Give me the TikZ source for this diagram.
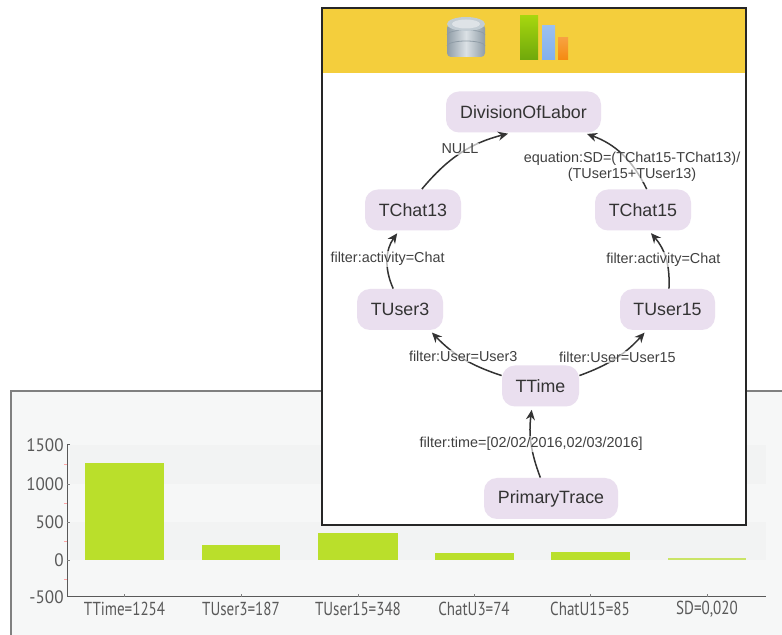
\documentclass[tikz,border=0pt]{standalone}
\usepackage{fontspec}
\setmainfont{Liberation Sans}
\newfontfamily\chartfont[FakeStretch=0.8]{PT Sans}
\newfontfamily\axisfont[FakeStretch=0.95]{PT Sans}
\usetikzlibrary{arrows.meta}
\definecolor{bandyellow}{HTML}{F4CE3C}
\definecolor{tracelilac}{HTML}{EADFEF}
\definecolor{barlime}{HTML}{BADF2B}
\definecolor{panelgrey}{HTML}{F6F7F7}
\definecolor{stripegrey}{HTML}{F2F3F3}
\definecolor{icongreen}{HTML}{A6D60E}
\definecolor{icondarkgreen}{HTML}{6FA80C}
\definecolor{iconblue}{HTML}{82B0EC}
\definecolor{iconorange}{HTML}{F58A10}
\definecolor{iconsilver}{HTML}{C3CDD4}
\definecolor{iconslate}{HTML}{8F9CA6}
\begin{document}
\begin{tikzpicture}[
    x=0.5pt,y=-0.5pt,
    tracenode/.style={rectangle,rounded corners=6.5pt,fill=tracelilac,text=black!80,inner sep=0pt,minimum height=20.5pt,font=\fontsize{8.9}{10}\selectfont},
    edgelabel/.style={fill=white,fill opacity=0.65,text opacity=1,text=black!75,inner sep=0.5pt,align=center,font=\fontsize{7.2}{7.6}\selectfont},
    traceedge/.style={->,>={Stealth[length=5pt,width=4.5pt]},draw=black!80,line width=0.75pt,shorten >=1.5pt},
    ticklabel/.style={text=black!65,inner sep=0pt,font=\chartfont\fontsize{9.4}{10}\selectfont},
    axislabel/.style={text=black!65,inner sep=0pt,anchor=east,font=\axisfont\fontsize{9}{10}\selectfont},
    bar/.style={fill=barlime}
    ]
    \useasboundingbox (0,0) rectangle (782,635);

    % chart panel
    \fill [panelgrey] (11,391) rectangle (782,635);
    \draw [black!50,line width=0.8pt] (11,635) -- (11,391) -- (782,391);
    \fill [stripegrey] (70,445) rectangle (766,484);
    \fill [stripegrey] (70,522) rectangle (766,560);
    \fill [bar] (85,463) rectangle (164,560);
    \fill [bar] (202,545) rectangle (280,560);
    \fill [bar] (318,533) rectangle (398,560);
    \fill [bar] (435,553) rectangle (514,560);
    \fill [bar] (551,552) rectangle (630,560);
    \fill [bar,opacity=0.7] (668,558.5) rectangle (746,560.5);
    \draw [black!65,line width=0.5pt] (70,445) -- (67,445) -- (67,597) -- (766,597);
    \draw [black!50,line width=0.4pt] (67,484) -- (70,484);
    \draw [black!50,line width=0.4pt] (67,522) -- (70,522);
    \draw [black!50,line width=0.4pt] (67,560) -- (70,560);
    \draw [red!35,line width=0.4pt] (64,464) -- (67,464);
    \draw [red!35,line width=0.4pt] (64,503) -- (67,503);
    \draw [red!35,line width=0.4pt] (64,541) -- (67,541);
    \draw [red!35,line width=0.4pt] (64,579) -- (67,579);
    \draw [black!50,line width=0.4pt] (124.5,597) -- (124.5,594);
    \draw [black!50,line width=0.4pt] (241,597) -- (241,594);
    \draw [black!50,line width=0.4pt] (358,597) -- (358,594);
    \draw [black!50,line width=0.4pt] (474,597) -- (474,594);
    \draw [black!50,line width=0.4pt] (590,597) -- (590,594);
    \draw [black!50,line width=0.4pt] (707,597) -- (707,594);

    \node (y1500) at (64,445) [axislabel] {1500};
    \node (y1000) at (64,484) [axislabel] {1000};
    \node (y500) at (64,522) [axislabel] {500};
    \node (y0) at (64,560) [axislabel] {0};
    \node (ym500) at (64,597) [axislabel] {-500};
    \node (xttime) at (124.5,609) [ticklabel] {TTime=1254};
    \node (xtuser3) at (241,609) [ticklabel] {TUser3=187};
    \node (xtuser15) at (358,609) [ticklabel] {TUser15=348};
    \node (xchat3) at (474,609) [ticklabel] {ChatU3=74};
    \node (xchat15) at (590,609) [ticklabel] {ChatU15=85};
    \node (xsd) at (707,609) [ticklabel] {SD=0,020};

    % workflow window
    \fill [white] (322,8) rectangle (746,525);
    \fill [bandyellow] (322,8) rectangle (746,73);
    \draw [black!85,line width=0.7pt] (322,8) rectangle (746,525);

    % database icon
    \shade [left color=iconslate,right color=iconslate,middle color=iconsilver!60!white,rounded corners=2pt] (447,24) rectangle (485,57);
    \draw [iconslate,line width=0.4pt] (447,35) arc [start angle=180,end angle=360,x radius=19,y radius=5];
    \draw [iconslate,line width=0.4pt] (447,46) arc [start angle=180,end angle=360,x radius=19,y radius=5];
    \fill [iconsilver] (466,24) ellipse [x radius=19,y radius=7];
    \fill [iconsilver!55!white] (466,24) ellipse [x radius=14,y radius=4.5];

    % chart icon
    \shade [top color=icongreen,bottom color=icondarkgreen] (520,16) rectangle (538,60);
    \shade [top color=iconblue!80,bottom color=iconblue] (542,26) rectangle (555,60);
    \shade [top color=iconorange!80,bottom color=iconorange] (558,38) rectangle (568,60);

    % trace nodes
    \node (division) at (523.5,112) [tracenode,minimum width=77.5pt] {DivisionOfLabor};
    \node (tchat13) at (413,210) [tracenode,minimum width=48pt] {TChat13};
    \node (tchat15) at (643,210) [tracenode,minimum width=48pt] {TChat15};
    \node (tuser3) at (400,309.5) [tracenode,minimum width=43pt] {TUser3};
    \node (tuser15) at (667.5,309.5) [tracenode,minimum width=47.5pt] {TUser15};
    \node (ttime) at (540.5,386) [tracenode,minimum width=38.5pt] {TTime};
    \node (primary) at (551,498.5) [tracenode,minimum width=67pt] {PrimaryTrace};

    \draw [traceedge] (primary.117) to [bend left=14] node [edgelabel,yshift=-0.5pt] {filter:time=[02/02/2016,02/03/2016]} (ttime.-112);
    \draw [traceedge] (ttime.165) to [bend left=14] node [edgelabel,pos=0.55,xshift=2pt,yshift=0pt] {filter:User=User3} (tuser3.-35);
    \draw [traceedge] (ttime.15) to [bend right=14] node [edgelabel,pos=0.52] {filter:User=User15} (tuser15.-135);
    \draw [traceedge] (tuser3.108) to [bend left=30] node [edgelabel] {filter:activity=Chat} (tchat13.-124);
    \draw [traceedge] (tuser15.86) to [bend right=22] node [edgelabel,xshift=-1pt,yshift=-1pt] {filter:activity=Chat} (tchat15.-74);
    \draw [traceedge] (tchat13.67) to [bend left=18] node [edgelabel,pos=0.6,xshift=-5pt,yshift=-0.5pt] {NULL} (division.-121);
    \draw [traceedge] (tchat15.80) to [bend right=22] node [edgelabel,pos=0.35,xshift=1pt,yshift=-2pt] {equation:SD=(TChat15-TChat13)/\\(TUser15+TUser13)} (division.-19);

  \end{tikzpicture}
\end{document}
